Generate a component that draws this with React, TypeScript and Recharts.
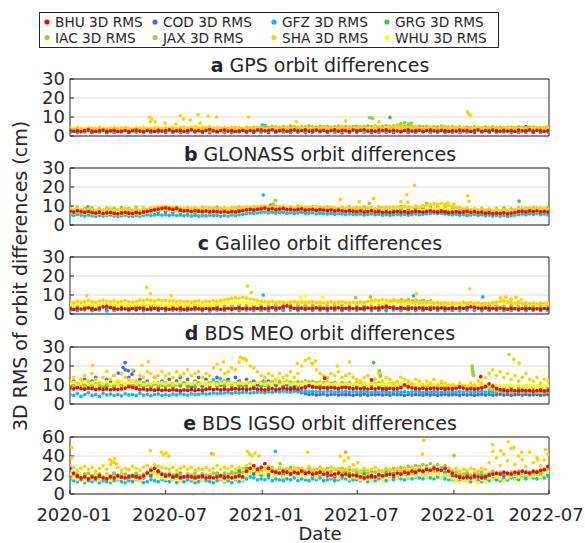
import React from 'react';
import { ScatterChart, Scatter, XAxis, YAxis, CartesianGrid } from 'recharts';

// sampling dates, days since 2020-01-01
const WEEK = [
  0, 7, 14, 21, 28, 35, 42, 49, 56, 63, 70, 77, 84, 91, 98, 105, 112, 119, 126, 133, 140, 147, 154, 161, 168, 175,
  182, 189, 196, 203, 210, 217, 224, 231, 238, 245, 252, 259, 266, 273, 280, 287, 294, 301, 308, 315, 322, 329, 336, 343, 350, 357,
  364, 371, 378, 385, 392, 399, 406, 413, 420, 427, 434, 441, 448, 455, 462, 469, 476, 483, 490, 497, 504, 511, 518, 525, 532, 539,
  546, 553, 560, 567, 574, 581, 588, 595, 602, 609, 616, 623, 630, 637, 644, 651, 658, 665, 672, 679, 686, 693, 700, 707, 714, 721,
  728, 735, 742, 749, 756, 763, 770, 777, 784, 791, 798, 805, 812, 819, 826, 833, 840, 847, 854, 861, 868, 875, 882, 889, 896, 903, 910,
];
const FORTNIGHT = [
  0, 14, 28, 42, 56, 70, 84, 98, 112, 126, 140, 154, 168,
  182, 196, 210, 224, 238, 252, 266, 280, 294, 308, 322, 336, 350,
  364, 378, 392, 406, 420, 434, 448, 462, 476, 490, 504, 518, 532,
  546, 560, 574, 588, 602, 616, 630, 644, 658, 672, 686, 700, 714,
  728, 742, 756, 770, 784, 798, 812, 826, 840, 854, 868, 882, 896, 910,
];

const DATE_TICKS = [0, 182, 366, 547, 731, 912];
const DATE_LABELS = ['2020-01', '2020-07', '2021-01', '2021-07', '2022-01', '2022-07'];
const Y_TICKS_30 = [0, 10, 20, 30];
const Y_TICKS_60 = [0, 20, 40, 60];

const CENTERS = ['BHU', 'COD', 'GFZ', 'GRG', 'IAC', 'JAX', 'SHA', 'WHU'];
const COLORS: Record<string, string> = {
  BHU: '#ff0000', COD: '#4169e1', GFZ: '#00bfff', GRG: '#32cd32',
  IAC: '#9acd32', JAX: '#bdb76b', SHA: '#ffd200', WHU: '#ffff00',
};
const DRAW_ORDER = ['JAX', 'GRG', 'COD', 'GFZ', 'IAC', 'WHU', 'SHA', 'BHU'];

// ---- a GPS ----
const A_BHU = [
  3.0, 2.5, 2.8, 2.3, 2.9, 3.2, 2.6, 2.4, 2.8, 3.1, 2.5, 2.7, 3.0, 2.4, 2.6, 2.9, 2.3, 2.8, 3.1, 2.6, 2.5, 2.9, 2.7, 2.4, 3.0, 2.6,
  2.8, 3.2, 2.5, 2.7, 3.0, 2.4, 2.9, 3.3, 2.6, 2.8, 2.5, 3.0, 3.4, 2.7, 2.5, 2.9, 3.1, 2.6, 2.8, 2.4, 2.7, 3.0, 2.5, 2.9, 2.6, 3.1,
  3.2, 2.7, 2.9, 3.3, 2.6, 2.8, 3.1, 2.5, 3.0, 3.2, 2.7, 2.9, 3.3, 2.6, 2.8, 3.1, 2.7, 3.0, 2.5, 2.9, 3.2, 2.6, 3.0, 2.8, 2.5, 3.1,
  2.7, 3.0, 3.3, 2.6, 2.9, 2.5, 3.1, 2.8, 3.2, 2.6, 3.0, 2.7, 2.5, 2.9, 3.2, 2.6, 2.8, 3.0, 2.5, 2.9, 3.1, 2.7, 2.6, 3.0, 2.8, 2.5,
  2.9, 2.6, 3.1, 2.7, 3.0, 2.4, 2.8, 3.2, 2.5, 2.9, 2.7, 3.1, 2.8, 2.5, 3.0, 2.6, 2.9, 2.4, 3.1, 2.7, 2.8, 3.2, 2.6, 3.0, 2.8, 2.5, 2.9,
];
const A_SHA = [
  4.2, 3.8, 4.4, 4.0, 3.7, 4.3, 4.1, 3.9, 4.5, 4.0, 3.8, 4.2, 4.4, 3.9, 4.1, 4.6, 4.0, 3.8, 4.3, 4.1, 4.5, 4.0, 3.9, 4.4, 4.2, 4.0,
  4.3, 4.1, 4.6, 4.0, 4.4, 4.8, 4.2, 4.5, 5.0, 4.3, 4.7, 4.4, 4.9, 4.2, 4.5, 4.1, 4.4, 4.0, 4.3, 4.6, 4.1, 3.9, 4.2, 4.4, 4.0, 4.3,
  4.1, 3.8, 4.2, 4.0, 4.4, 3.9, 4.1, 4.3, 3.8, 4.0, 4.2, 4.5, 4.1, 3.9, 4.3, 4.0, 4.2, 4.4, 4.1, 3.8, 4.0, 4.3, 4.5, 4.1, 3.9, 4.2,
  4.0, 4.3, 4.1, 3.8, 4.2, 4.5, 4.1, 3.9, 4.3, 4.6, 4.8, 5.0, 4.7, 4.4, 4.2, 4.0, 4.3, 4.1, 3.9, 4.2, 4.4, 4.0, 3.8, 4.1, 4.3, 4.0,
  4.2, 3.9, 4.1, 4.4, 4.0, 3.8, 4.2, 4.5, 4.1, 3.9, 4.3, 4.0, 4.2, 3.8, 4.1, 4.4, 4.0, 4.2, 3.9, 4.3, 4.1, 3.8, 4.2, 4.0, 4.4, 4.1, 4.3,
];
const A_WHU = [
  3.4, 3.1, 3.6, 3.3, 3.0, 3.5, 3.2, 3.7, 3.3, 3.1, 3.4, 3.6, 3.2, 3.5, 3.0, 3.3, 3.6, 3.2, 3.4, 3.1, 3.5, 3.3, 3.7, 3.2, 3.4, 3.1,
  3.5, 3.3, 3.8, 3.4, 3.6, 3.2, 3.9, 3.5, 3.3, 3.7, 3.4, 3.6, 3.2, 3.5, 3.3, 3.6, 3.1, 3.4, 3.7, 3.3, 3.5, 3.2, 3.4, 3.6, 3.3, 3.5,
  3.6, 3.3, 3.5, 3.8, 3.4, 3.6, 3.2, 3.5, 3.7, 3.4, 3.6, 3.3, 3.8, 3.5, 3.4, 3.7, 3.3, 3.6, 3.5, 3.8, 3.4, 3.6, 3.3, 3.5, 3.7, 3.4,
  3.5, 3.7, 3.3, 3.6, 3.4, 3.8, 3.5, 3.3, 3.6, 3.9, 3.7, 4.0, 3.6, 3.4, 3.7, 3.5, 3.3, 3.6, 3.4, 3.7, 3.5, 3.2, 3.4, 3.6, 3.3, 3.5,
  3.4, 3.6, 3.2, 3.5, 3.3, 3.7, 3.4, 3.2, 3.5, 3.6, 3.3, 3.5, 3.4, 3.2, 3.6, 3.3, 3.5, 3.4, 3.7, 3.3, 3.5, 3.2, 3.4, 3.6, 3.3, 3.5, 3.4,
];
const A_IAC = [
  3.6, 3.4, 3.8, 3.5, 3.3, 3.7, 3.5, 3.9, 3.4, 3.6, 3.8, 3.5, 3.7, 3.4, 3.6, 3.9, 3.5, 3.7, 3.4, 3.8, 3.6, 3.5, 3.9, 3.6, 3.4, 3.7,
  3.8, 3.6, 4.0, 3.7, 3.9, 3.6, 4.1, 3.8, 3.7, 4.0, 3.8, 4.2, 3.9, 3.7, 4.1, 3.9, 4.3, 4.0, 4.4, 4.1, 4.3, 4.0, 4.5, 4.2, 4.6, 4.4,
  4.7, 4.9, 4.5, 5.1, 4.8, 4.6, 5.0, 4.7, 5.2, 4.9, 4.6, 5.0, 4.8, 5.3, 4.9, 4.7, 5.1, 4.8, 5.0, 4.6, 4.9, 5.2, 4.8, 5.0, 4.7, 4.9,
  5.1, 4.8, 5.0, 5.4, 4.9, 5.2, 4.8, 5.1, 5.5, 5.0, 5.3, 5.8, 5.4, 5.1, 5.6, 5.0, 4.8, 5.2, 4.9, 5.1, 4.7, 5.0, 4.8, 5.2, 4.9, 4.7,
  4.9, 4.6, 4.8, 4.5, 4.7, 4.4, 4.8, 4.6, 4.3, 4.7, 4.5, 4.8, 4.4, 4.6, 4.3, 4.7, 4.5, 4.4, 4.8, 4.6, 4.3, 4.5, 4.7, 4.4, 4.6, 4.5, 4.8,
];
const A_COD = [
  2.0, 1.8, 2.2, 1.9, 2.1, 1.7, 2.0, 2.3, 1.9, 2.1, 1.8, 2.0, 2.2,
  1.9, 2.1, 1.8, 2.0, 2.2, 1.9, 1.7, 2.1, 2.0, 1.8, 2.2, 1.9, 2.0,
  2.1, 1.8, 2.0, 2.3, 1.9, 2.1, 1.8, 2.0, 2.2, 1.9, 2.1, 1.7, 2.0,
  1.9, 2.2, 1.8, 2.0, 2.1, 1.9, 2.3, 1.8, 2.0, 2.2, 1.9, 2.1, 1.8,
  2.0, 1.9, 2.2, 1.8, 2.1, 2.0, 1.9, 2.2, 1.8, 2.0, 2.1, 1.9, 2.0, 2.2,
];
const A_GFZ = [
  2.3, 2.0, 2.5, 2.1, 2.4, 2.2, 1.9, 2.3, 2.1, 2.5, 2.0, 2.2, 2.4,
  2.1, 2.3, 2.0, 2.4, 2.2, 2.5, 2.1, 2.3, 1.9, 2.2, 2.4, 2.0, 2.3,
  2.2, 2.5, 2.1, 2.3, 2.0, 2.4, 2.2, 2.1, 2.5, 2.3, 2.0, 2.2, 2.4,
  2.1, 2.3, 2.5, 2.0, 2.2, 2.4, 2.1, 2.3, 2.0, 2.5, 2.2, 2.1, 2.4,
  2.3, 2.0, 2.2, 2.5, 2.1, 2.3, 2.0, 2.4, 2.2, 2.1, 2.3, 2.5, 2.0, 2.2,
];
const A_GRG = [
  3.3, 3.0, 3.5, 3.1, 3.4, 3.2, 2.9, 3.3, 3.6, 3.1, 3.4, 3.0, 3.2,
  3.5, 3.1, 3.3, 3.0, 3.4, 3.2, 3.6, 3.1, 3.3, 2.9, 3.2, 3.5, 3.1,
  3.4, 3.2, 3.0, 3.5, 3.3, 3.1, 3.6, 3.2, 3.4, 3.0, 3.3, 3.5, 3.1,
  3.2, 3.4, 3.0, 3.3, 3.6, 3.1, 3.5, 3.2, 3.4, 3.0, 3.3, 3.1, 3.5,
  3.2, 3.4, 3.0, 3.3, 3.1, 3.5, 3.2, 2.9, 3.4, 3.1, 3.3, 3.0, 3.2, 3.4,
];
const A_JAX = [
  3.0, 2.8, 3.2, 2.9, 3.1, 2.7, 3.0, 3.3, 2.8, 3.1, 2.9, 3.2, 3.0,
  2.8, 3.1, 2.9, 3.3, 3.0, 2.7, 3.1, 2.9, 3.2, 3.0, 2.8, 3.1, 2.9,
  3.2, 3.0, 2.8, 3.1, 3.3, 2.9, 3.0, 3.2, 2.8, 3.1, 2.9, 3.0, 3.2,
  2.9, 3.1, 2.8, 3.0, 3.3, 2.9, 3.1, 3.0, 2.8, 3.2, 2.9, 3.1, 3.0,
  2.8, 3.1, 2.9, 3.2, 3.0, 2.8, 3.1, 3.3, 2.9, 3.0, 3.2, 2.8, 3.1, 2.9,
];
const A_SHA_OUT_DAYS = [151, 153, 156, 162, 181, 202, 210, 216, 229, 244, 248, 263, 279, 340, 431, 525, 588, 757, 759, 763];
const A_SHA_OUT_VALS = [10, 7.5, 9, 7.4, 6.8, 6.3, 10.7, 9, 8.4, 11.2, 6.8, 10.5, 10, 10, 7.5, 8, 7.5, 12.8, 11.7, 11];
const A_IAC_OUT_DAYS = [570, 576, 630, 637, 645, 650];
const A_IAC_OUT_VALS = [9.6, 9.4, 6.5, 7, 6.2, 6.8];
const A_GRG_OUT_DAYS = [609];
const A_GRG_OUT_VALS = [9.8];
const A_GFZ_OUT_DAYS = [366, 372];
const A_GFZ_OUT_VALS = [5.8, 5.5];
const A_COD_OUT_DAYS = [868];
const A_COD_OUT_VALS = [5];

// ---- b GLONASS ----
const B_BHU = [
  7.2, 6.8, 7.5, 7.0, 6.6, 7.1, 6.5, 6.2, 6.8, 6.0, 6.4, 6.6, 6.1, 5.9, 6.3, 6.7, 6.2, 6.0, 6.5, 6.3, 6.8, 7.2, 7.6, 8.0, 8.4, 8.8,
  9.0, 8.6, 8.2, 8.8, 7.8, 7.4, 7.6, 7.1, 7.5, 7.3, 7.0, 7.4, 6.9, 7.2, 7.0, 6.8, 7.1, 6.7, 7.0, 6.9, 7.3, 7.6, 8.0, 8.2, 7.9, 8.3,
  8.5, 8.9, 8.2, 8.6, 8.0, 8.4, 8.7, 8.1, 8.3, 7.9, 8.2, 8.5, 7.8, 8.0, 8.3, 7.7, 8.1, 7.9, 7.6, 8.0, 7.4, 7.8, 7.5, 7.2, 7.6, 7.3,
  7.0, 7.4, 6.8, 7.1, 7.5, 6.9, 7.2, 6.7, 7.0, 6.6, 6.9, 7.2, 6.8, 7.1, 6.5, 6.9, 7.3, 7.0, 6.8, 7.2, 7.5, 7.1, 6.9, 7.4, 7.0, 6.6,
  6.8, 7.1, 6.6, 6.9, 7.2, 6.7, 7.0, 6.5, 6.8, 6.2, 6.5, 6.0, 6.3, 6.1, 6.4, 5.9, 6.3, 6.6, 7.0, 7.3, 6.9, 7.4, 7.1, 7.5, 6.9, 7.2, 6.8,
];
const B_SHA = [
  8.5, 8.0, 8.8, 8.2, 7.9, 8.4, 8.1, 7.6, 8.3, 7.8, 8.0, 8.5, 7.7, 8.2, 7.9, 8.6, 8.1, 7.8, 8.4, 8.0, 8.7, 8.3, 8.9, 9.2, 9.6, 9.4,
  9.8, 9.3, 9.0, 9.5, 8.9, 8.6, 9.1, 8.7, 9.0, 8.5, 8.8, 9.2, 8.6, 8.9, 8.4, 8.7, 9.0, 8.6, 8.9, 9.3, 8.8, 9.1, 9.5, 9.2, 9.7, 9.4,
  9.6, 9.9, 9.3, 9.7, 9.1, 9.5, 9.8, 9.2, 9.6, 9.0, 9.4, 9.7, 9.1, 9.3, 9.0, 9.5, 8.8, 9.2, 8.9, 9.4, 9.0, 8.7, 9.1, 8.8, 9.3, 8.9,
  8.6, 9.0, 8.7, 9.2, 8.8, 8.5, 8.9, 9.1, 8.7, 9.3, 9.0, 9.5, 9.2, 9.8, 9.4, 9.1, 9.6, 9.3, 9.9, 10.4, 10.8, 11.2, 10.9, 11.4, 10.7, 10.3,
  9.8, 9.2, 8.9, 8.5, 8.8, 8.3, 8.6, 8.0, 8.4, 7.9, 8.2, 7.7, 8.0, 7.6, 7.9, 7.5, 7.8, 8.1, 8.5, 8.8, 8.4, 8.9, 8.6, 9.0, 8.5, 8.8, 8.3,
];
const B_WHU = [
  6.8, 6.4, 7.0, 6.6, 6.2, 6.7, 6.0, 5.8, 6.3, 5.6, 5.9, 6.1, 5.7, 5.5, 5.9, 6.2, 5.8, 5.6, 6.0, 5.8, 6.3, 6.7, 7.0, 7.5, 7.8, 8.0,
  8.2, 7.9, 7.6, 8.0, 7.3, 7.0, 7.2, 6.8, 7.1, 6.9, 6.6, 7.0, 6.5, 6.8, 6.6, 6.4, 6.7, 6.3, 6.6, 6.5, 6.9, 7.2, 7.5, 7.8, 7.6, 8.0,
  8.2, 8.5, 8.0, 8.3, 7.8, 8.1, 8.4, 7.9, 8.1, 7.7, 8.0, 8.3, 7.6, 7.9, 8.1, 7.5, 7.9, 7.7, 7.4, 7.8, 7.3, 7.6, 7.4, 7.1, 7.5, 7.2,
  7.0, 7.3, 6.8, 7.1, 7.4, 6.9, 7.2, 6.8, 7.1, 6.7, 7.0, 7.3, 6.9, 7.2, 6.8, 7.1, 7.5, 7.2, 7.6, 8.0, 8.4, 8.8, 8.5, 8.9, 8.3, 7.9,
  7.6, 7.2, 6.9, 7.1, 6.8, 6.5, 6.9, 6.4, 6.7, 6.2, 6.5, 6.1, 6.4, 6.0, 6.3, 5.9, 6.2, 6.5, 6.9, 7.2, 6.8, 7.3, 7.0, 7.4, 6.8, 7.1, 6.7,
];
const B_GFZ = [
  5.4, 5.0, 5.6, 5.2, 4.8, 5.3, 4.9, 4.6, 5.1, 4.7, 5.0, 5.3, 4.8, 4.5, 4.9, 5.2, 4.7, 4.6, 5.0, 4.8, 5.1, 5.4, 5.0, 5.3, 5.6, 5.2,
  5.5, 5.1, 5.4, 5.0, 5.3, 4.9, 5.2, 4.8, 5.1, 4.7, 5.0, 4.8, 5.2, 4.9, 5.1, 4.7, 5.0, 4.8, 5.3, 5.0, 5.4, 5.6, 6.0, 6.3, 6.1, 6.4,
  6.6, 6.9, 6.4, 6.7, 6.3, 6.6, 6.8, 6.2, 6.5, 6.1, 6.4, 6.7, 6.0, 6.3, 6.5, 5.9, 6.2, 6.0, 5.8, 6.1, 5.7, 6.0, 5.8, 5.5, 5.9, 5.6,
  5.5, 5.8, 5.3, 5.6, 5.9, 5.4, 5.7, 5.2, 5.5, 5.1, 5.4, 5.7, 5.3, 5.6, 5.2, 5.5, 5.8, 5.4, 5.7, 5.9, 6.1, 6.3, 6.0, 6.2, 5.8, 5.6,
  5.4, 5.7, 5.2, 5.5, 5.0, 5.3, 5.6, 5.1, 5.4, 4.9, 5.2, 4.8, 5.1, 4.7, 5.0, 4.6, 4.9, 5.2, 5.5, 5.8, 5.4, 5.9, 5.6, 6.0, 5.5, 5.8, 5.3,
];
const B_IAC = [
  8.8, 9.2, 8.6, 9.0, 8.5, 8.9, 8.7, 9.1, 8.6, 9.3, 9.0, 8.8, 9.2,
  9.5, 9.0, 8.8, 9.2, 8.7, 9.1, 8.9, 9.3, 8.8, 9.0, 9.4, 9.1, 9.6,
  9.8, 9.4, 9.7, 9.2, 9.5, 9.9, 9.3, 9.6, 9.1, 9.4, 9.0, 9.3, 9.6,
  9.2, 9.5, 9.0, 9.4, 9.1, 9.3, 9.7, 9.2, 9.8, 10.2, 10.0, 10.5, 9.6,
  9.3, 9.0, 8.8, 8.5, 8.7, 8.4, 8.6, 8.9, 8.5, 9.0, 8.7, 9.1, 8.8, 9.2,
];
const B_GRG = [
  8.0, 8.4, 7.8, 8.2, 7.9, 8.3, 7.7, 8.1, 8.5, 7.9, 8.2, 8.0, 8.6,
  8.3, 7.9, 8.1, 7.8, 8.2, 7.9, 8.4, 8.0, 8.3, 7.8, 8.1, 8.5, 8.2,
  8.6, 8.9, 8.4, 8.7, 8.3, 8.6, 8.2, 8.5, 8.8, 8.3, 8.6, 8.1, 8.4,
  8.0, 8.3, 7.9, 8.2, 8.5, 8.0, 8.4, 8.1, 8.7, 8.9, 8.6, 9.0, 8.4,
  8.1, 7.8, 8.0, 7.6, 7.9, 7.5, 7.8, 8.1, 7.7, 8.2, 7.9, 8.3, 8.0, 7.8,
];
const B_COD = [
  6.6, 6.2, 6.8, 6.4, 6.0, 6.3, 6.1, 6.5, 6.2, 6.7, 6.4, 6.9, 7.2,
  7.0, 6.7, 6.5, 6.8, 6.4, 6.6, 6.3, 6.7, 6.5, 6.9, 7.1, 6.8, 7.2,
  7.4, 7.1, 7.5, 7.2, 7.0, 7.3, 6.9, 7.2, 6.8, 7.1, 6.9, 6.7, 7.0,
  6.6, 6.9, 6.5, 6.8, 6.4, 6.7, 6.5, 6.9, 6.6, 7.0, 6.8, 6.5, 6.3,
  6.1, 6.4, 6.0, 6.3, 5.9, 6.2, 6.0, 6.4, 6.1, 6.5, 6.3, 6.6, 6.2, 6.4,
];
const B_JAX = [
  7.2, 6.9, 7.4, 7.0, 6.7, 7.1, 6.8, 7.3, 6.9, 7.5, 7.1, 7.8, 8.2,
  7.9, 7.5, 7.2, 7.6, 7.1, 7.4, 7.0, 7.3, 7.6, 7.9, 8.1, 7.8, 8.3,
  8.5, 8.1, 8.4, 8.0, 7.8, 8.2, 7.7, 8.0, 7.6, 7.9, 7.5, 7.3, 7.6,
  7.2, 7.5, 7.1, 7.4, 7.0, 7.3, 7.1, 7.5, 7.2, 7.8, 8.0, 7.6, 7.3,
  7.0, 6.8, 7.1, 6.7, 7.0, 6.6, 6.9, 7.2, 6.8, 7.3, 7.0, 7.4, 6.9, 7.1,
];
const B_GFZ_OUT_DAYS = [368];
const B_GFZ_OUT_VALS = [15.8];
const B_SHA_OUT_DAYS = [515, 551, 578, 630, 641, 643, 656, 719, 731, 757, 760];
const B_SHA_OUT_VALS = [13.5, 12.3, 14, 12.3, 16, 12, 21, 11.5, 11, 15.3, 12.6];
const B_IAC_OUT_DAYS = [387, 391, 570, 679];
const B_IAC_OUT_VALS = [11, 13, 11.4, 11.4];
const B_GRG_OUT_DAYS = [34, 382, 855];
const B_GRG_OUT_VALS = [9.5, 10.5, 12.6];

// ---- c Galileo ----
const C_BHU = [
  2.8, 2.4, 3.0, 2.6, 2.9, 3.3, 2.7, 2.5, 3.1, 3.8, 4.0, 3.4, 2.9, 2.6, 3.0, 2.7, 2.5, 2.9, 2.6, 3.1, 2.8, 2.4, 2.7, 3.0, 2.6, 2.9,
  2.7, 2.5, 2.9, 2.6, 3.0, 2.4, 2.8, 2.6, 3.1, 2.7, 2.5, 2.9, 2.6, 2.8, 3.0, 2.5, 2.7, 3.0, 2.6, 2.9, 3.2, 2.8, 3.0, 2.7, 3.1, 2.9,
  3.2, 2.8, 3.0, 3.4, 2.9, 3.1, 3.8, 4.3, 3.6, 3.0, 2.8, 3.1, 2.7, 3.0, 2.9, 3.2, 2.8, 3.0, 2.7, 3.1, 2.9, 3.3, 2.8, 3.0, 3.2, 2.9,
  3.1, 2.8, 3.0, 3.3, 2.9, 3.2, 3.0, 3.6, 4.0, 3.5, 3.1, 2.9, 3.2, 3.0, 2.8, 3.1, 2.9, 3.2, 2.8, 3.0, 2.7, 3.1, 2.9, 3.2, 3.0, 2.8,
  3.1, 2.9, 3.3, 3.0, 3.4, 3.8, 3.5, 3.1, 2.9, 3.2, 2.8, 3.0, 2.7, 3.1, 2.9, 2.6, 3.0, 2.8, 2.5, 2.9, 2.7, 3.0, 2.6, 2.8, 2.5, 2.9, 2.7,
];
const C_SHA = [
  6.4, 6.0, 6.8, 6.2, 6.6, 7.0, 6.5, 6.1, 6.7, 7.2, 6.8, 6.4, 6.9, 6.3, 6.6, 7.1, 6.5, 6.2, 6.7, 7.3, 7.0, 7.6, 7.2, 6.8, 7.4, 7.0,
  7.2, 6.8, 7.0, 6.5, 6.9, 6.4, 6.7, 6.2, 6.6, 6.9, 6.3, 6.7, 6.5, 7.0, 6.6, 7.2, 7.5, 7.8, 8.2, 8.6, 8.3, 8.8, 8.4, 8.0, 7.6, 7.2,
  6.8, 6.5, 6.2, 6.6, 6.0, 6.4, 6.1, 5.8, 6.2, 6.5, 6.0, 6.3, 5.9, 6.2, 6.6, 6.0, 6.3, 5.8, 6.1, 6.4, 5.9, 6.2, 6.5, 6.1, 5.8, 6.2,
  6.0, 6.4, 6.1, 6.7, 7.0, 7.4, 7.1, 7.5, 7.2, 6.8, 7.3, 7.0, 6.6, 6.9, 6.4, 6.2, 6.5, 6.0, 6.3, 5.9, 6.2, 5.8, 6.1, 5.7, 6.0, 5.6,
  5.9, 5.5, 5.8, 6.2, 5.7, 6.0, 5.6, 5.9, 5.4, 5.8, 5.5, 5.9, 6.2, 6.6, 7.0, 6.5, 6.1, 5.8, 6.2, 5.6, 5.9, 5.5, 5.8, 5.4, 5.7, 5.5, 5.8,
];
const C_WHU = [
  5.0, 4.6, 5.3, 4.8, 5.1, 4.5, 4.9, 5.2, 4.7, 5.4, 5.0, 4.6, 5.1, 4.8, 5.3, 4.9, 4.6, 5.0, 5.2, 4.7, 5.4, 5.0, 5.5, 5.1, 4.8, 5.2,
  5.0, 4.7, 5.3, 4.9, 5.1, 4.6, 5.0, 4.8, 5.2, 4.9, 4.6, 5.1, 4.8, 5.0, 5.3, 5.5, 5.8, 6.0, 5.7, 6.2, 5.9, 6.3, 6.0, 5.7, 5.4, 5.6,
  5.9, 6.3, 5.7, 6.6, 6.1, 5.8, 6.4, 6.0, 6.7, 6.2, 5.9, 6.5, 6.1, 5.8, 6.3, 6.0, 5.7, 6.2, 5.9, 6.4, 6.0, 5.7, 6.1, 5.8, 6.3, 5.9,
  5.6, 6.0, 5.7, 6.2, 5.8, 6.4, 6.0, 5.6, 6.1, 5.8, 6.3, 5.9, 5.5, 5.9, 5.6, 6.0, 5.4, 5.8, 5.5, 5.9, 5.3, 5.7, 5.4, 5.8, 5.2, 5.6,
  5.3, 5.7, 5.1, 5.5, 5.2, 5.6, 5.0, 5.4, 5.1, 5.5, 5.8, 6.2, 5.9, 6.4, 6.0, 5.7, 6.1, 5.6, 5.9, 5.4, 5.8, 5.3, 5.6, 5.1, 5.5, 5.2, 5.6,
];
const C_IAC = [
  4.4, 4.1, 4.6, 4.2, 4.5, 4.0, 4.3, 4.7, 4.2, 4.5, 4.1, 4.4, 4.6,
  4.3, 4.0, 4.5, 4.2, 4.6, 4.1, 4.4, 4.7, 4.3, 4.5, 4.8, 4.4, 4.6,
  4.9, 4.5, 4.8, 4.4, 4.7, 5.0, 4.6, 4.9, 4.5, 4.8, 5.1, 4.7, 5.0,
  4.8, 5.2, 4.9, 5.4, 5.6, 6.4, 7.0, 7.3, 6.9, 7.2, 6.6, 5.8, 5.2,
  4.9, 4.6, 5.0, 4.7, 4.4, 4.8, 4.5, 4.2, 4.6, 4.3, 4.7, 4.4, 4.5, 4.2,
];
const C_GFZ = [
  2.0, 1.7, 2.2, 1.8, 2.1, 1.6, 1.9, 2.3, 1.8, 2.0, 1.7, 2.1, 1.9,
  1.8, 2.1, 1.7, 2.0, 2.2, 1.8, 1.6, 2.0, 1.9, 2.2, 1.8, 2.1, 1.9,
  2.0, 1.7, 2.2, 1.9, 2.1, 1.8, 2.3, 1.9, 2.0, 1.7, 2.1, 1.8, 2.0,
  1.9, 2.2, 1.8, 2.0, 1.7, 2.1, 1.9, 2.3, 1.8, 2.0, 2.2, 1.9, 1.7,
  2.0, 1.8, 2.1, 1.9, 1.7, 2.0, 2.2, 1.8, 1.9, 2.1, 1.7, 2.0, 1.8, 1.9,
];
const C_COD = [
  2.5, 2.2, 2.7, 2.3, 2.6, 2.1, 2.4, 2.8, 2.3, 3.8, 4.2, 4.0, 3.6,
  2.6, 2.3, 2.5, 2.2, 2.6, 2.4, 2.1, 2.5, 2.3, 2.7, 2.2, 2.4, 2.6,
  2.3, 2.5, 2.1, 2.4, 2.6, 2.2, 2.5, 2.3, 2.7, 2.2, 2.4, 2.1, 2.5,
  2.2, 2.4, 2.6, 2.1, 2.3, 2.5, 2.2, 2.6, 2.3, 2.1, 2.4, 2.2, 2.5,
  2.3, 2.1, 2.4, 2.2, 2.5, 2.0, 2.3, 2.1, 2.4, 2.2, 2.0, 2.3, 2.1, 2.2,
];
const C_GRG = [
  3.5, 3.2, 3.7, 3.3, 3.6, 3.1, 3.4, 3.8, 3.3, 3.5, 3.2, 3.6, 3.4,
  3.3, 3.6, 3.2, 3.5, 3.7, 3.3, 3.1, 3.5, 3.4, 3.7, 3.3, 3.6, 3.4,
  3.5, 3.2, 3.7, 3.4, 3.6, 3.3, 3.8, 3.4, 3.5, 3.2, 3.6, 3.3, 3.5,
  3.4, 3.7, 3.3, 3.5, 3.2, 3.6, 3.4, 3.8, 3.3, 3.5, 3.7, 3.4, 3.2,
  3.5, 3.3, 3.6, 3.4, 3.2, 3.5, 3.7, 3.3, 3.4, 3.6, 3.2, 3.5, 3.3, 3.4,
];
const C_JAX = [
  3.8, 3.5, 4.0, 3.6, 3.9, 3.4, 3.7, 4.1, 3.6, 3.8, 3.5, 3.9, 3.7,
  3.6, 3.9, 3.5, 3.8, 4.0, 3.6, 3.4, 3.8, 3.7, 4.0, 3.6, 3.9, 3.7,
  3.8, 3.5, 4.0, 3.7, 3.9, 3.6, 4.1, 3.7, 3.8, 3.5, 3.9, 3.6, 3.8,
  3.7, 4.0, 3.6, 3.8, 3.5, 3.9, 3.7, 4.1, 3.6, 3.8, 4.0, 3.7, 3.5,
  3.8, 3.6, 3.9, 3.7, 3.5, 3.8, 4.0, 3.6, 3.7, 3.9, 3.5, 3.8, 3.6, 3.7,
];
const C_SHA_OUT_DAYS = [32, 146, 153, 193, 338, 345, 660, 761, 820, 830, 840, 849, 859];
const C_SHA_OUT_VALS = [9.6, 14, 10.8, 9.6, 14.7, 11.4, 10.8, 13.3, 8.5, 9, 7.8, 8.8, 7.5];
const C_WHU_OUT_DAYS = [439, 448, 481];
const C_WHU_OUT_VALS = [8.5, 9.5, 9];
const C_GFZ_OUT_DAYS = [368, 654, 786];
const C_GFZ_OUT_VALS = [10, 9.6, 9];
const C_IAC_OUT_DAYS = [544, 572, 610, 617, 624, 631, 638, 645, 652, 659, 666, 673, 680, 687];
const C_IAC_OUT_VALS = [8.6, 9, 6.8, 7.2, 6.6, 7.4, 7.0, 7.5, 6.9, 7.3, 6.7, 7.1, 6.5, 6.9];

// ---- d BDS MEO ----
const D_BHU = [
  8.4, 8.0, 8.6, 8.2, 7.8, 8.3, 8.1, 7.7, 8.0, 7.6, 7.9, 7.5, 7.8, 7.7, 8.0, 8.4, 9.2, 8.8, 8.2, 7.6, 7.9, 7.4, 7.7, 7.3, 7.6, 7.2,
  7.5, 7.2, 7.6, 7.3, 7.0, 7.4, 7.2, 7.6, 7.1, 7.5, 7.3, 7.8, 8.0, 7.6, 7.9, 7.4, 7.7, 7.5, 7.8, 8.1, 7.7, 8.0, 7.6, 7.9, 8.2, 7.8,
  7.7, 7.4, 7.8, 8.1, 7.6, 7.9, 8.3, 8.0, 7.8, 8.2, 7.9, 8.4, 8.8, 9.7, 9.2, 8.7, 8.4, 8.6, 8.3, 8.7, 8.5, 8.2, 8.6, 8.8, 8.4, 8.1,
  8.4, 8.0, 8.3, 7.9, 8.2, 8.0, 8.4, 8.1, 7.8, 8.3, 8.0, 8.2, 8.6, 10.0, 9.2, 8.5, 8.2, 8.0, 8.3, 7.9, 8.2, 8.4, 8.0, 8.3, 7.8, 8.1,
  8.0, 8.3, 9.0, 8.4, 7.9, 8.2, 7.8, 8.1, 8.5, 9.3, 10.6, 9.4, 8.2, 7.6, 7.3, 7.0, 7.4, 7.1, 6.9, 7.3, 7.0, 7.2, 6.8, 7.1, 7.3, 6.9, 7.2,
];
const D_SHA = [
  12, 14, 11, 13, 15, 12, 16, 13, 11, 14, 17, 13, 15, 12, 16, 14, 13, 18, 12, 15, 14, 17, 16, 14, 15, 17,
  15, 16, 14, 17, 15, 16, 18, 15, 16, 17, 14, 16, 15, 19, 21, 18, 16, 17, 19, 18, 22, 24, 23, 20, 19, 17,
  15, 14, 16, 15, 13, 16, 14, 15, 17, 14, 16, 20, 23, 24, 21, 18, 16, 15, 14, 16, 15, 17, 14, 15, 16, 14,
  13, 12, 14, 15, 12, 13, 16, 12, 14, 13, 11, 12, 14, 13, 12, 11, 13, 12, 10, 12, 11, 13, 10, 12, 11, 10,
  10, 9, 11, 10, 9, 11, 10, 12, 11, 14, 16, 18, 15, 17, 14, 16, 13, 15, 12, 14, 16, 13, 12, 14, 11, 13, 12,
];
const D_WHU = [
  10.8, 11.4, 10.2, 11.0, 11.8, 10.5, 11.2, 10.0, 11.5, 10.7, 11.9, 10.4, 11.1, 10.6, 11.6, 10.3, 11.3, 12.0, 10.8, 11.4, 10.2, 11.0, 10.6, 11.5, 10.9, 11.2,
  10.6, 11.3, 10.1, 10.9, 11.6, 10.4, 11.0, 10.7, 11.4, 10.2, 10.8, 11.5, 10.5, 11.1, 10.3, 10.9, 11.6, 10.6, 11.2, 10.4, 11.0, 10.7, 11.3, 10.5, 10.9, 11.4,
  10.8, 10.3, 11.0, 10.6, 11.3, 10.1, 10.7, 11.2, 10.4, 10.9, 10.2, 10.6, 11.1, 10.5, 10.8, 10.3, 11.0, 10.4, 10.7, 10.1, 10.5, 10.9, 10.2, 10.6, 10.3, 10.8,
  10.4, 10.0, 10.6, 10.2, 10.8, 9.9, 10.3, 10.7, 10.1, 10.5, 9.8, 10.2, 10.6, 10.0, 10.4, 9.7, 10.1, 10.5, 9.9, 10.3, 9.6, 10.0, 10.4, 9.8, 10.2, 9.7,
  10.0, 9.5, 9.9, 9.3, 9.8, 9.6, 10.1, 9.4, 9.7, 9.2, 9.6, 9.9, 9.3, 9.7, 9.1, 9.5, 9.8, 9.2, 9.6, 9.0, 9.4, 9.7, 9.1, 9.5, 8.9, 9.3, 9.6,
];
const D_COD = [
  10, 12, 9, 11, 13, 10, 12, 14, 11, 9, 13, 12, 15, 11, 16, 18, 14, 12, 10, 13, 11, 12, 10, 14, 11, 12,
  11, 13, 10, 12, 14, 11, 13, 9, 12, 14, 10, 13, 11, 12, 14, 10, 12, 13, 11, 14, 12, 10, 13, 11, 12, 10,
  11, 10, 12, 11, 10, 11, 9, 10, 8, 9, 7, 6, 5.5, 5, 5.2, 4.8, 5, 5.3, 4.7, 5, 5.2, 4.8, 5.1, 4.9, 5, 4.6,
  5, 4.8, 5.2, 4.7, 5, 4.9, 5.1, 4.8, 5, 4.7, 5.2, 4.9, 5, 4.6, 5.1, 4.8, 5, 4.9, 4.7, 5.1, 4.8, 5, 4.6, 4.9, 5.1, 4.8,
  4.9, 5, 4.7, 5.1, 4.8, 5, 4.6, 4.9, 5.1, 4.8, 5, 4.7, 4.9, 5.2, 4.8, 5, 4.6, 4.9, 5.1, 4.7, 5, 4.8, 4.9, 5.1, 4.7, 4.9, 5,
];
const D_GFZ = [
  5.0, 4.5, 5.5, 4.0, 5.0, 6.0, 4.5, 5.0, 4.0, 5.5, 4.8, 5.2, 4.6, 5.0, 4.3, 5.4, 4.8, 5.0, 4.5, 5.6, 4.7, 5.1, 4.4, 5.0, 5.3, 4.6,
  5.0, 4.6, 5.2, 4.8, 5.5, 5.0, 4.7, 5.3, 4.9, 5.1, 5.6, 5.2, 5.4, 5.8, 5.5, 5.7, 5.8, 6.0, 5.6, 6.2, 5.9, 6.1, 6.3, 5.8, 6.0, 6.2,
  6.3, 6.0, 6.5, 6.2, 6.6, 6.4, 6.8, 6.5, 6.3, 6.7, 6.4, 6.6, 6.9, 6.5, 6.7, 6.4, 6.6, 6.3, 6.8, 6.5, 6.2, 6.6, 6.4, 6.7, 6.3, 6.5,
  6.4, 6.1, 6.6, 6.3, 6.0, 6.5, 6.2, 6.7, 6.3, 6.0, 6.4, 6.6, 6.2, 6.5, 6.1, 6.4, 6.7, 6.3, 6.0, 6.5, 6.2, 6.6, 6.3, 6.1, 6.4, 6.2,
  6.5, 6.2, 6.6, 6.3, 6.8, 6.4, 6.1, 6.5, 6.7, 6.3, 6.6, 6.2, 6.5, 6.8, 6.4, 6.7, 6.3, 6.6, 6.9, 6.5, 6.2, 6.6, 6.8, 6.4, 6.7, 6.3, 6.5,
];
const D_IAC = [
  10.2, 9.8, 10.5, 10.0, 9.6, 10.3, 9.9, 10.6, 10.1, 9.7, 10.4, 10.0, 9.5, 10.2, 9.8, 10.5, 10.1, 9.7, 10.3, 9.9, 10.6, 10.0, 9.6, 10.4, 10.1, 9.8,
  10.3, 9.9, 10.6, 10.1, 10.8, 10.4, 11.0, 10.5, 10.9, 11.3, 10.7, 11.1, 10.6, 11.4, 10.9, 11.2, 10.8, 11.5, 11.0, 10.7, 11.3, 10.9, 11.6, 11.1, 10.8, 11.4,
  11.0, 11.6, 10.9, 11.8, 11.3, 11.9, 11.2, 12.0, 11.5, 11.1, 11.8, 11.4, 12.2, 11.6, 11.9, 11.3, 11.7, 11.1, 11.5, 11.0, 11.4, 10.8, 11.2, 10.9, 11.3, 10.7,
  11.1, 10.6, 11.0, 10.4, 10.9, 10.5, 11.2, 10.7, 10.3, 10.9, 10.5, 11.1, 10.6, 10.2, 10.8, 10.4, 10.0, 10.6, 10.2, 9.8, 10.4, 10.0, 9.7, 10.3, 9.9, 9.5,
  9.9, 9.4, 9.8, 9.2, 9.6, 9.0, 9.5, 8.8, 9.3, 8.6, 8.0, 7.5, 7.0, 6.8, 6.5, 6.9, 6.3, 6.7, 6.4, 6.1, 6.6, 6.2, 6.5, 6.0, 6.4, 6.1, 6.5,
];
const D_GRG = [
  9.2, 8.8, 9.5, 9.0, 8.6, 9.3, 8.9, 9.6, 9.1, 8.7, 9.4, 9.0, 8.5,
  9.2, 8.8, 9.5, 9.1, 8.7, 9.3, 8.9, 9.6, 9.0, 8.6, 9.4, 9.1, 8.8,
  9.3, 8.9, 9.6, 9.2, 8.8, 9.5, 9.1, 8.7, 9.4, 9.0, 8.6, 9.3, 8.9,
  9.2, 8.8, 9.5, 9.1, 8.7, 9.3, 8.9, 8.5, 9.2, 8.8, 9.4, 9.0, 8.6,
  9.1, 8.7, 9.3, 8.9, 8.5, 9.2, 8.8, 8.4, 9.0, 8.6, 9.1, 8.7, 8.3, 8.9,
];
const D_JAX = [
  9.6, 9.2, 9.9, 9.4, 9.0, 9.7, 9.3, 10.0, 9.5, 9.1, 9.8, 9.4, 8.9,
  9.6, 9.2, 9.9, 9.5, 9.1, 9.7, 9.3, 10.0, 9.4, 9.0, 9.8, 9.5, 9.2,
  9.7, 9.3, 10.0, 9.6, 9.2, 9.9, 9.5, 9.1, 9.8, 9.4, 9.0, 9.7, 9.3,
  9.6, 9.2, 9.9, 9.5, 9.1, 9.7, 9.3, 8.9, 9.6, 9.2, 9.8, 9.4, 9.0,
  9.5, 9.1, 9.7, 9.3, 8.9, 9.6, 9.2, 8.8, 9.4, 9.0, 9.5, 9.1, 8.7, 9.3,
];
const D_SHA_OUT_DAYS = [43, 137, 149, 292, 324, 334, 433, 461, 467, 509, 532, 836, 845, 855];
const D_SHA_OUT_VALS = [20.4, 20.4, 22.2, 22.2, 24.6, 23.8, 21.4, 21.4, 22.7, 20, 22.2, 26, 23.6, 21.5];
const D_COD_OUT_DAYS = [92, 101, 105, 111, 118, 121];
const D_COD_OUT_VALS = [16.3, 19.2, 21.8, 17.5, 15.7, 17.5];
const D_GFZ_OUT_DAYS = [273, 280, 286, 292, 368];
const D_GFZ_OUT_VALS = [12.7, 11.2, 13.3, 11.7, 12];
const D_IAC_OUT_DAYS = [589, 590, 591, 766, 766, 767, 767, 768];
const D_IAC_OUT_VALS = [17.5, 15.7, 14.6, 20, 18.7, 17.5, 16.3, 15];
const D_GRG_OUT_DAYS = [578];
const D_GRG_OUT_VALS = [21.8];
const D_BHU_OUT_DAYS = [485, 574, 782];
const D_BHU_OUT_VALS = [13.6, 12.7, 14.4];

// ---- e BDS IGSO ----
const E_BHU = [
  27, 22, 19, 17, 18, 16, 18, 17, 19, 17, 16, 18, 17, 19, 18, 17, 18, 19, 18, 17, 19, 22, 25, 27, 24, 21,
  19, 20, 18, 19, 17, 18, 19, 18, 17, 18, 19, 17, 18, 17, 18, 19, 17, 18, 17, 18, 19, 18, 24, 27, 30, 26,
  28, 32, 27, 24, 23, 22, 24, 23, 21, 23, 22, 24, 22, 23, 21, 22, 23, 21, 22, 20, 21, 22, 20, 21, 19, 20,
  19, 18, 17, 18, 19, 18, 20, 19, 20, 21, 20, 22, 21, 23, 22, 24, 23, 25, 24, 26, 25, 27, 26, 25, 27, 24,
  22, 19, 18, 17, 18, 17, 19, 18, 17, 18, 20, 21, 22, 21, 23, 22, 21, 23, 22, 24, 23, 22, 24, 23, 25, 26, 29,
];
const E_SHA = [
  30, 28, 25, 27, 29, 26, 28, 24, 27, 30, 26, 31, 33, 28, 25, 27, 26, 29, 27, 25, 28, 30, 27, 31, 29, 28,
  27, 26, 28, 25, 27, 29, 26, 28, 25, 27, 26, 28, 25, 27, 30, 26, 28, 27, 29, 26, 28, 27, 30, 32, 29, 27,
  28, 26, 29, 27, 25, 28, 26, 27, 25, 28, 26, 27, 25, 29, 26, 24, 27, 26, 25, 28, 26, 27, 25, 26, 28, 25,
  26, 24, 27, 25, 26, 28, 25, 24, 27, 26, 25, 27, 24, 26, 25, 27, 26, 28, 25, 27, 26, 24, 26, 25, 27, 26,
  25, 27, 24, 26, 25, 27, 26, 24, 27, 26, 33, 45, 38, 30, 42, 35, 48, 31, 40, 36, 29, 44, 33, 38, 30, 36, 42,
];
const E_WHU = [
  21, 17, 15, 19, 14, 18, 16, 20, 15, 17, 19, 14, 18, 16, 20, 15, 17, 19, 16, 14, 18, 20, 23, 21, 19, 17,
  16, 19, 15, 18, 14, 17, 20, 16, 15, 18, 14, 17, 19, 15, 18, 16, 14, 17, 19, 16, 18, 15, 20, 23, 25, 21,
  22, 20, 24, 19, 21, 23, 18, 22, 20, 24, 19, 21, 18, 22, 20, 17, 21, 19, 23, 18, 20, 17, 21, 19, 16, 18,
  17, 15, 18, 16, 14, 17, 19, 15, 18, 16, 20, 17, 19, 22, 18, 21, 19, 23, 20, 18, 22, 19, 21, 17, 20, 18,
  16, 14, 12, 15, 13, 16, 14, 12, 15, 13, 17, 15, 18, 16, 14, 17, 19, 15, 18, 16, 20, 17, 19, 21, 18, 20, 23,
];
const E_GFZ = [
  15, 14, 13, 15, 12, 14, 13, 15, 12, 14, 13, 12, 14, 15, 13, 12, 14, 13, 15, 14, 12, 13, 15, 14, 13, 15,
  14, 13, 15, 12, 14, 13, 15, 14, 12, 13, 15, 14, 13, 12, 14, 15, 13, 14, 12, 15, 13, 14, 16, 18, 17, 15,
  16, 15, 17, 14, 16, 15, 14, 16, 15, 17, 14, 16, 15, 14, 16, 15, 17, 14, 15, 16, 14, 15, 17, 16, 14, 15,
  15, 14, 16, 13, 15, 14, 16, 15, 14, 16, 15, 17, 16, 15, 17, 16, 18, 17, 16, 18, 17, 16, 18, 17, 16, 15,
  15, 14, 13, 15, 14, 13, 15, 14, 13, 15, 14, 16, 15, 14, 16, 15, 17, 16, 15, 17, 16, 18, 17, 16, 18, 17, 19,
];
const E_IAC = [
  20, 19, 21, 18, 20, 22, 19, 21, 20, 18, 21, 19, 22, 20, 19, 21, 18, 20, 22, 19, 21, 23, 24, 22, 20, 21,
  20, 22, 19, 21, 20, 18, 21, 20, 22, 19, 21, 20, 19, 22, 21, 20, 22, 21, 23, 22, 21, 23, 25, 27, 26, 24,
  25, 27, 26, 28, 25, 27, 24, 26, 28, 25, 27, 26, 24, 27, 25, 26, 28, 25, 27, 24, 26, 25, 27, 24, 26, 25,
  24, 23, 25, 22, 24, 23, 25, 24, 26, 25, 27, 26, 28, 27, 29, 28, 30, 29, 31, 30, 32, 29, 31, 28, 30, 27,
  25, 23, 22, 21, 23, 20, 22, 21, 23, 20, 22, 24, 21, 23, 22, 20, 23, 21, 24, 22, 20, 23, 21, 24, 22, 25, 27,
];
const E_COD = [
  18, 17, 19, 16, 18, 17, 19, 18, 16, 18, 17, 19, 20,
  18, 17, 19, 18, 16, 18, 17, 19, 18, 20, 22, 24, 21,
  20, 19, 21, 18, 20, 19, 21, 18, 20, 19, 18, 20, 19,
  18, 19, 17, 18, 19, 18, 20, 19, 21, 20, 22, 21, 20,
  18, 17, 18, 16, 17, 18, 17, 19, 18, 17, 19, 20, 19, 21,
];
const E_GRG = [
  22, 20, 21, 19, 21, 20, 22, 21, 19, 21, 20, 22, 24,
  21, 20, 22, 21, 19, 21, 20, 22, 21, 23, 25, 28, 24,
  23, 22, 24, 21, 23, 22, 24, 21, 23, 22, 21, 23, 22,
  21, 22, 20, 21, 23, 22, 24, 23, 25, 24, 26, 25, 23,
  21, 20, 21, 19, 20, 21, 20, 22, 21, 20, 22, 23, 22, 25,
];
const E_JAX = [
  21, 19, 20, 18, 20, 19, 21, 20, 18, 20, 19, 21, 23,
  20, 19, 21, 20, 18, 20, 19, 21, 20, 22, 24, 26, 23,
  22, 21, 23, 20, 22, 21, 23, 20, 22, 21, 20, 22, 21,
  20, 21, 19, 20, 22, 21, 23, 22, 24, 23, 25, 24, 22,
  20, 19, 20, 18, 19, 20, 19, 21, 20, 19, 21, 22, 21, 24,
];
const E_SHA_OUT_DAYS = [3, 3, 76, 80, 85, 88, 153, 174, 178, 183, 188, 273, 338, 342, 347, 352, 360, 452, 515, 522, 530, 540, 548, 671, 673, 805, 820, 834, 845, 860, 891, 905];
const E_SHA_OUT_VALS = [49, 38, 36, 34, 37, 32, 45.6, 44, 41, 43, 40, 42, 45, 42, 40, 43, 40, 44, 40, 35, 38, 31, 33, 42, 56.6, 52, 45.6, 55, 49, 44, 36, 47];
const E_GFZ_OUT_DAYS = [391];
const E_GFZ_OUT_VALS = [45];
const E_IAC_OUT_DAYS = [270, 400, 525, 731];
const E_IAC_OUT_VALS = [42.5, 32, 44, 40.5];

const NONE: number[] = [];

type Series = { name: string; days: number[]; values: number[]; xd?: number[]; xv?: number[] };
type PanelCfg = { letter: string; title: string; yMax: number; yTicks: number[]; series: Series[] };

const PANELS: PanelCfg[] = [
  {
    letter: 'a', title: 'GPS orbit differences', yMax: 30, yTicks: Y_TICKS_30,
    series: [
      { name: 'BHU', days: WEEK, values: A_BHU },
      { name: 'COD', days: FORTNIGHT, values: A_COD, xd: A_COD_OUT_DAYS, xv: A_COD_OUT_VALS },
      { name: 'GFZ', days: FORTNIGHT, values: A_GFZ, xd: A_GFZ_OUT_DAYS, xv: A_GFZ_OUT_VALS },
      { name: 'GRG', days: FORTNIGHT, values: A_GRG, xd: A_GRG_OUT_DAYS, xv: A_GRG_OUT_VALS },
      { name: 'IAC', days: WEEK, values: A_IAC, xd: A_IAC_OUT_DAYS, xv: A_IAC_OUT_VALS },
      { name: 'JAX', days: FORTNIGHT, values: A_JAX },
      { name: 'SHA', days: WEEK, values: A_SHA, xd: A_SHA_OUT_DAYS, xv: A_SHA_OUT_VALS },
      { name: 'WHU', days: WEEK, values: A_WHU },
    ],
  },
  {
    letter: 'b', title: 'GLONASS orbit differences', yMax: 30, yTicks: Y_TICKS_30,
    series: [
      { name: 'BHU', days: WEEK, values: B_BHU },
      { name: 'COD', days: FORTNIGHT, values: B_COD },
      { name: 'GFZ', days: WEEK, values: B_GFZ, xd: B_GFZ_OUT_DAYS, xv: B_GFZ_OUT_VALS },
      { name: 'GRG', days: FORTNIGHT, values: B_GRG, xd: B_GRG_OUT_DAYS, xv: B_GRG_OUT_VALS },
      { name: 'IAC', days: FORTNIGHT, values: B_IAC, xd: B_IAC_OUT_DAYS, xv: B_IAC_OUT_VALS },
      { name: 'JAX', days: FORTNIGHT, values: B_JAX },
      { name: 'SHA', days: WEEK, values: B_SHA, xd: B_SHA_OUT_DAYS, xv: B_SHA_OUT_VALS },
      { name: 'WHU', days: WEEK, values: B_WHU },
    ],
  },
  {
    letter: 'c', title: 'Galileo orbit differences', yMax: 30, yTicks: Y_TICKS_30,
    series: [
      { name: 'BHU', days: WEEK, values: C_BHU },
      { name: 'COD', days: FORTNIGHT, values: C_COD },
      { name: 'GFZ', days: FORTNIGHT, values: C_GFZ, xd: C_GFZ_OUT_DAYS, xv: C_GFZ_OUT_VALS },
      { name: 'GRG', days: FORTNIGHT, values: C_GRG },
      { name: 'IAC', days: FORTNIGHT, values: C_IAC, xd: C_IAC_OUT_DAYS, xv: C_IAC_OUT_VALS },
      { name: 'JAX', days: FORTNIGHT, values: C_JAX },
      { name: 'SHA', days: WEEK, values: C_SHA, xd: C_SHA_OUT_DAYS, xv: C_SHA_OUT_VALS },
      { name: 'WHU', days: WEEK, values: C_WHU, xd: C_WHU_OUT_DAYS, xv: C_WHU_OUT_VALS },
    ],
  },
  {
    letter: 'd', title: 'BDS MEO orbit differences', yMax: 30, yTicks: Y_TICKS_30,
    series: [
      { name: 'BHU', days: WEEK, values: D_BHU, xd: D_BHU_OUT_DAYS, xv: D_BHU_OUT_VALS },
      { name: 'COD', days: WEEK, values: D_COD, xd: D_COD_OUT_DAYS, xv: D_COD_OUT_VALS },
      { name: 'GFZ', days: WEEK, values: D_GFZ, xd: D_GFZ_OUT_DAYS, xv: D_GFZ_OUT_VALS },
      { name: 'GRG', days: FORTNIGHT, values: D_GRG, xd: D_GRG_OUT_DAYS, xv: D_GRG_OUT_VALS },
      { name: 'IAC', days: WEEK, values: D_IAC, xd: D_IAC_OUT_DAYS, xv: D_IAC_OUT_VALS },
      { name: 'JAX', days: FORTNIGHT, values: D_JAX },
      { name: 'SHA', days: WEEK, values: D_SHA, xd: D_SHA_OUT_DAYS, xv: D_SHA_OUT_VALS },
      { name: 'WHU', days: WEEK, values: D_WHU },
    ],
  },
  {
    letter: 'e', title: 'BDS IGSO orbit differences', yMax: 60, yTicks: Y_TICKS_60,
    series: [
      { name: 'BHU', days: WEEK, values: E_BHU },
      { name: 'COD', days: FORTNIGHT, values: E_COD },
      { name: 'GFZ', days: WEEK, values: E_GFZ, xd: E_GFZ_OUT_DAYS, xv: E_GFZ_OUT_VALS },
      { name: 'GRG', days: FORTNIGHT, values: E_GRG },
      { name: 'IAC', days: WEEK, values: E_IAC, xd: E_IAC_OUT_DAYS, xv: E_IAC_OUT_VALS },
      { name: 'JAX', days: FORTNIGHT, values: E_JAX },
      { name: 'SHA', days: WEEK, values: E_SHA, xd: E_SHA_OUT_DAYS, xv: E_SHA_OUT_VALS },
      { name: 'WHU', days: WEEK, values: E_WHU },
    ],
  },
];

const FONT = "'DejaVu Sans', sans-serif";
const INK = '#262626';
const PLOT_H = 57;
const PANEL_TOPS = [79, 168, 257, 347, 437];

const toPoints = (s: Series) => {
  const pts = s.values.map((v, i) => ({ x: s.days[i], y: v }));
  (s.xd || NONE).forEach((d, i) => pts.push({ x: d, y: (s.xv || NONE)[i] }));
  return pts.filter((p) => p.x !== undefined && p.y !== undefined);
};

const makeDot = (color: string) => (props: any) =>
  props.cx == null ? <g /> : <circle cx={props.cx} cy={props.cy} r={1.85} fill={color} />;

const DateTick = (props: any) => {
  const { x, y, payload } = props;
  const i = DATE_TICKS.indexOf(payload.value);
  const dx = i === DATE_TICKS.length - 1 ? -3 : 4;
  return (
    <text x={x + dx} y={y} dy="0.71em" textAnchor="middle" fontFamily={FONT} fontSize={18} fill={INK}>
      {DATE_LABELS[i]}
    </text>
  );
};

const Panel = ({ cfg, top, last }: { cfg: PanelCfg; top: number; last: boolean }) => {
  const bottomH = last ? 35 : 5;
  const height = 10 + PLOT_H + bottomH + 5;
  const ordered = DRAW_ORDER.map((n) => cfg.series.find((s) => s.name === n)!).filter(Boolean);
  return (
    <div style={{ position: 'absolute', left: 0, top: top - 10 }}>
      <ScatterChart width={585} height={height} margin={{ top: 5, right: 26, bottom: 5, left: 20 }}>
        <CartesianGrid xAxisId="b" yAxisId="l" vertical={false} stroke="#dcdcdc" strokeWidth={1} />
        <XAxis
          xAxisId="b" type="number" dataKey="x" domain={[0, 912]} ticks={DATE_TICKS} interval={0}
          allowDataOverflow height={bottomH} tickSize={-4} tickMargin={18}
          tick={last ? <DateTick /> : false} stroke={INK}
        />
        <XAxis
          xAxisId="t" orientation="top" type="number" domain={[0, 912]} ticks={DATE_TICKS} interval={0}
          allowDataOverflow height={5} tickSize={-4} tick={false} stroke={INK}
        />
        <YAxis
          yAxisId="l" type="number" dataKey="y" domain={[0, cfg.yMax]} ticks={cfg.yTicks} interval={0}
          allowDataOverflow width={50} tickSize={-4} tickMargin={9} stroke={INK}
          tick={{ fill: INK, fontSize: 18, fontFamily: FONT }}
        />
        <YAxis
          yAxisId="r" orientation="right" type="number" domain={[0, cfg.yMax]} ticks={cfg.yTicks} interval={0}
          allowDataOverflow width={10} tickSize={-4} tick={false} stroke={INK}
        />
        {ordered.map((s) => (
          <Scatter
            key={s.name}
            name={`${s.name} 3D RMS`}
            xAxisId="b"
            yAxisId="l"
            data={toPoints(s)}
            fill={COLORS[s.name]}
            shape={makeDot(COLORS[s.name])}
            isAnimationActive={false}
          />
        ))}
      </ScatterChart>
    </div>
  );
};

const LEGEND_X = [47, 155, 274, 387];
const LEGEND_Y = [22, 37.5];

const App = () => {
  return (
    <div style={{ position: 'absolute', left: 0, top: 0, width: 585, height: 543, background: '#fff', overflow: 'hidden' }}>
      {PANELS.map((p, i) => (
        <Panel key={p.letter} cfg={p} top={PANEL_TOPS[i]} last={i === PANELS.length - 1} />
      ))}
      <svg width={585} height={543} style={{ position: 'absolute', left: 0, top: 0, pointerEvents: 'none' }}>
        <rect x={39.5} y={12.5} width={459} height={35} fill="#fff" stroke={INK} strokeWidth={1} />
        {CENTERS.map((c, i) => {
          const col = i % 4;
          const row = Math.floor(i / 4);
          return (
            <g key={c}>
              <circle cx={LEGEND_X[col]} cy={LEGEND_Y[row]} r={2.6} fill={COLORS[c]} />
              <text x={LEGEND_X[col] + 8} y={LEGEND_Y[row] + 5} fontFamily={FONT} fontSize={13.7} fill={INK}>
                {`${c} 3D RMS`}
              </text>
            </g>
          );
        })}
        {PANELS.map((p, i) => (
          <text key={p.letter} x={320} y={PANEL_TOPS[i] - 7.5} textAnchor="middle" fontFamily={FONT} fontSize={19} fill={INK}>
            <tspan fontWeight="bold">{p.letter}</tspan> {p.title}
          </text>
        ))}
        <text transform="translate(27,276) rotate(-90)" textAnchor="middle" fontFamily={FONT} fontSize={19} fill={INK}>
          3D RMS of orbit differences (cm)
        </text>
        <text x={320} y={540} textAnchor="middle" fontFamily={FONT} fontSize={18} fill={INK}>
          Date
        </text>
      </svg>
    </div>
  );
};

export default App;
